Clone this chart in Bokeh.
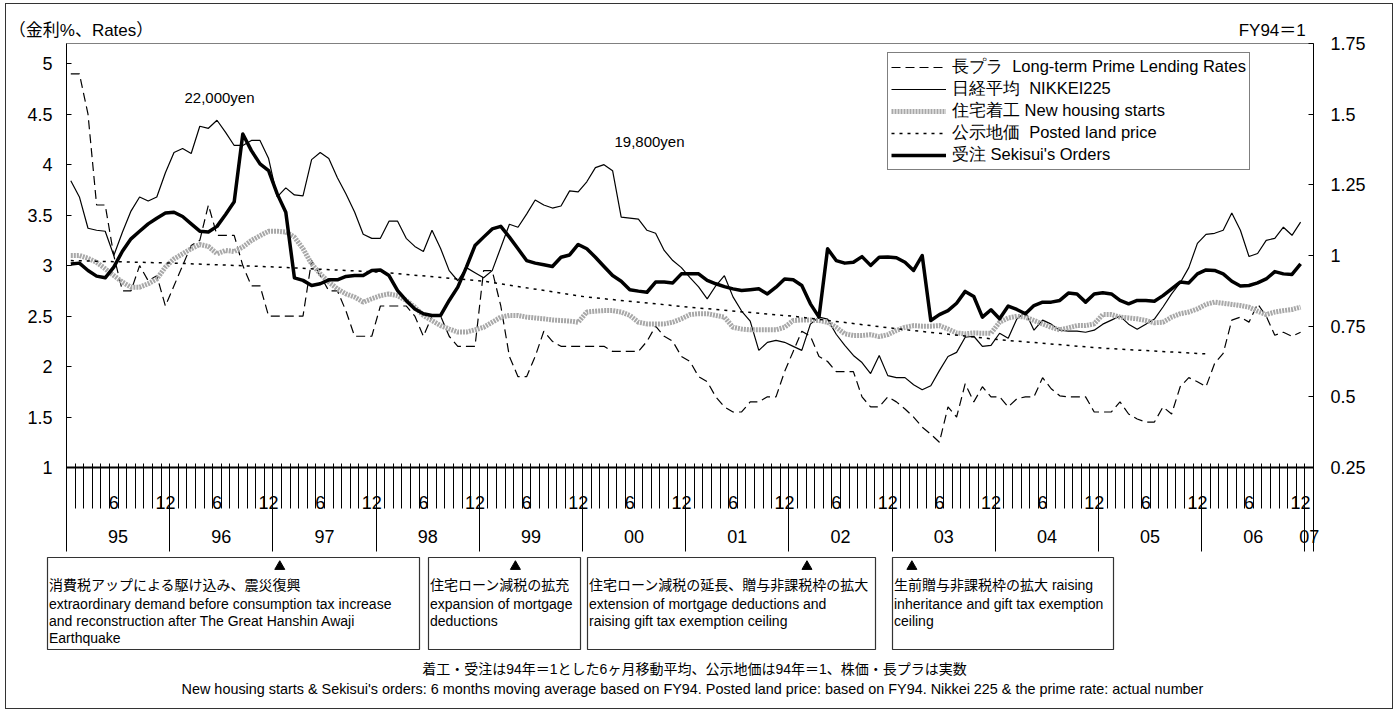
from bokeh.plotting import figure
from bokeh.models import (Range1d, LinearAxis, FixedTicker, CustomJSTickFormatter,
                          Legend, LegendItem, Label, ColumnDataSource)
from bokeh.layouts import column
from bokeh.embed import file_html
from bokeh.resources import INLINE
from bokeh.core.properties import value

# ------------------------------------------------------------------ data
year_labels = ["95", "96", "97", "98", "99", "00", "01", "02", "03", "04", "05", "06", "07"]
month_label_6 = "6"
month_label_12 = "12"
n_categories = 145          # Jan-95 ... Jan-07 monthly categories

# 長プラ Long-term prime lending rate (%), monthly Jan-95 .. Dec-06 (left axis)
prime_rate = [
    4.90, 4.90, 4.50, 3.60, 3.60, 3.10, 2.75, 2.75, 3.00, 2.85, 2.90, 2.60,
    2.80, 3.00, 3.20, 3.25, 3.60, 3.30, 3.30, 3.30, 3.00, 2.80, 2.80, 2.50,
    2.50, 2.50, 2.50, 2.50, 3.05, 2.90, 2.75, 2.75, 2.55, 2.30, 2.30, 2.30,
    2.60, 2.60, 2.60, 2.60, 2.50, 2.30, 2.50, 2.50, 2.30, 2.20, 2.20, 2.20,
    2.95, 2.95, 2.60, 2.10, 1.90, 1.90, 2.10, 2.35, 2.25, 2.20, 2.20, 2.20,
    2.20, 2.20, 2.20, 2.15, 2.15, 2.15, 2.15, 2.25, 2.40, 2.30, 2.25, 2.10,
    2.05, 1.90, 1.85, 1.70, 1.60, 1.55, 1.55, 1.65, 1.65, 1.70, 1.70, 1.95,
    2.15, 2.35, 2.30, 2.10, 2.05, 1.95, 1.95, 1.95, 1.70, 1.60, 1.60, 1.70,
    1.65, 1.58, 1.50, 1.40, 1.33, 1.25, 1.60, 1.50, 1.83, 1.65, 1.80, 1.70,
    1.70, 1.60, 1.68, 1.70, 1.70, 1.89, 1.78, 1.71, 1.70, 1.70, 1.70, 1.55,
    1.55, 1.55, 1.65, 1.53, 1.48, 1.45, 1.45, 1.60, 1.53, 1.80, 1.89, 1.85,
    1.80, 2.03, 2.13, 2.46, 2.49, 2.44, 2.62, 2.50, 2.31, 2.34, 2.30, 2.34,
]

# 日経平均 NIKKEI225, read on the left axis scale
nikkei = [
    3.84, 3.68, 3.37, 3.35, 3.34, 3.10, 3.33, 3.54, 3.68, 3.64, 3.68, 3.92,
    4.12, 4.16, 4.11, 4.38, 4.36, 4.44, 4.32, 4.19, 4.19, 4.24, 4.24, 4.06,
    3.68, 3.77, 3.70, 3.69, 4.05, 4.12, 4.06, 3.87, 3.71, 3.53, 3.31, 3.27,
    3.27, 3.44, 3.44, 3.27, 3.19, 3.14, 3.35, 3.17, 2.95, 2.85, 2.98, 2.93,
    2.88, 2.95, 3.18, 3.41, 3.38, 3.51, 3.65, 3.60, 3.57, 3.59, 3.74, 3.73,
    3.83, 3.97, 4.00, 3.94, 3.48, 3.47, 3.46, 3.35, 3.32, 3.15, 3.05, 2.98,
    2.88, 2.79, 2.67, 2.80, 2.90, 2.69, 2.55, 2.45, 2.16, 2.24, 2.26, 2.24,
    2.20, 2.16, 2.42, 2.49, 2.47, 2.32, 2.21, 2.11, 2.04, 1.93, 2.11, 1.91,
    1.89, 1.89, 1.82, 1.77, 1.81, 1.96, 2.10, 2.14, 2.29, 2.30, 2.20, 2.21,
    2.33, 2.28, 2.47, 2.54, 2.36, 2.46, 2.42, 2.36, 2.35, 2.35, 2.34, 2.36,
    2.42, 2.46, 2.50, 2.42, 2.37, 2.42, 2.47, 2.59, 2.72, 2.83, 2.98, 3.22,
    3.31, 3.32, 3.35, 3.52, 3.35, 3.09, 3.12, 3.25, 3.27, 3.38, 3.30, 3.43,
]

# 住宅着工 New housing starts (FY94 = 1, 6-month moving average), right axis
housing_starts = [
    1.000, 1.000, 0.990, 0.976, 0.953, 0.929, 0.906, 0.888, 0.888, 0.900, 0.917, 0.959,
    0.988, 1.006, 1.024, 1.039, 1.032, 1.006, 1.018, 1.014, 1.030, 1.053, 1.070, 1.086,
    1.086, 1.083, 1.065, 1.024, 0.970, 0.935, 0.906, 0.882, 0.864, 0.853, 0.835, 0.847,
    0.858, 0.864, 0.858, 0.841, 0.817, 0.788, 0.770, 0.752, 0.740, 0.729, 0.729, 0.737,
    0.746, 0.764, 0.782, 0.788, 0.788, 0.782, 0.779, 0.776, 0.772, 0.770, 0.768, 0.764,
    0.800, 0.803, 0.805, 0.805, 0.800, 0.788, 0.764, 0.758, 0.758, 0.758, 0.764, 0.776,
    0.791, 0.794, 0.794, 0.788, 0.782, 0.746, 0.740, 0.737, 0.737, 0.737, 0.737, 0.746,
    0.770, 0.772, 0.772, 0.770, 0.764, 0.746, 0.723, 0.717, 0.717, 0.720, 0.713, 0.720,
    0.735, 0.746, 0.752, 0.750, 0.750, 0.752, 0.740, 0.726, 0.723, 0.726, 0.725, 0.725,
    0.764, 0.779, 0.785, 0.782, 0.770, 0.758, 0.746, 0.737, 0.744, 0.752, 0.752, 0.758,
    0.791, 0.791, 0.782, 0.779, 0.776, 0.770, 0.762, 0.764, 0.782, 0.794, 0.800, 0.811,
    0.827, 0.835, 0.831, 0.827, 0.823, 0.817, 0.803, 0.791, 0.800, 0.805, 0.809, 0.817,
]

# 受注 Sekisui's orders (FY94 = 1, 6-month moving average), right axis
orders = [
    0.970, 0.973, 0.947, 0.927, 0.921, 0.959, 1.015, 1.059, 1.086, 1.112, 1.132, 1.150,
    1.153, 1.138, 1.112, 1.086, 1.083, 1.103, 1.145, 1.190, 1.430, 1.371, 1.324, 1.300,
    1.218, 1.153, 0.921, 0.912, 0.894, 0.900, 0.914, 0.914, 0.926, 0.929, 0.929, 0.947,
    0.949, 0.929, 0.876, 0.841, 0.811, 0.794, 0.788, 0.788, 0.841, 0.888, 0.959, 1.035,
    1.065, 1.094, 1.103, 1.065, 1.024, 0.982, 0.973, 0.967, 0.961, 0.994, 1.002, 1.039,
    1.024, 0.994, 0.961, 0.929, 0.909, 0.879, 0.874, 0.870, 0.906, 0.906, 0.903, 0.935,
    0.935, 0.935, 0.912, 0.900, 0.890, 0.882, 0.876, 0.879, 0.882, 0.864, 0.888, 0.917,
    0.914, 0.894, 0.829, 0.782, 1.024, 0.982, 0.973, 0.976, 0.996, 0.965, 0.994, 0.995,
    0.992, 0.976, 0.947, 1.000, 0.770, 0.791, 0.805, 0.831, 0.873, 0.855, 0.782, 0.808,
    0.776, 0.821, 0.809, 0.794, 0.823, 0.835, 0.835, 0.841, 0.867, 0.864, 0.835, 0.864,
    0.868, 0.864, 0.841, 0.829, 0.841, 0.841, 0.838, 0.858, 0.882, 0.906, 0.903, 0.935,
    0.949, 0.947, 0.935, 0.909, 0.892, 0.894, 0.903, 0.917, 0.943, 0.935, 0.933, 0.970,
]

# 公示地価 Posted land price (FY94 = 1), yearly points (January of each year), right axis
land_month = [0, 12, 24, 36, 48, 60, 72, 84, 96, 108, 120, 132]
land_price = [0.982, 0.973, 0.959, 0.941, 0.909, 0.853, 0.817, 0.785, 0.741, 0.702, 0.672, 0.652]

legend_labels = [
    "長プラ  Long-term Prime Lending Rates",
    "日経平均  NIKKEI225",
    "住宅着工 New housing starts",
    "公示地価  Posted land price",
    "受注 Sekisui's Orders",
]

left_title = "（金利%、Rates）"
right_title = "FY94＝1"
title_months = [1.69, 140.2]          # centre of each caption on the month axis
nikkei_peak_texts = ["22,000yen", "19,800yen"]
nikkei_peak_months = [17, 62]

# positions of the ▲ markers on the month axis
event_months = [24.8, 52.2, 86.1, 98.3]
event_texts = [
    ["消費税アップによる駆け込み、震災復興",
     "extraordinary demand before consumption tax increase",
     "and reconstruction after The Great Hanshin Awaji",
     "Earthquake"],
    ["住宅ローン減税の拡充",
     "expansion of mortgage",
     "deductions"],
    ["住宅ローン減税の延長、贈与非課税枠の拡大",
     "extension of mortgage deductions and",
     "raising gift tax exemption ceiling"],
    ["生前贈与非課税枠の拡大 raising",
     "inheritance and gift tax exemption",
     "ceiling"],
]
note_jp = "着工・受注は94年＝1とした6ヶ月移動平均、公示地価は94年＝1、株価・長プラは実数"
note_en = ("New housing starts & Sekisui's orders: 6 months moving average based on FY94. "
           "Posted land price: based on FY94.  Nikkei 225 & the prime rate: actual number")

# ------------------------------------------------------------------ layout constants
FONT = "Liberation Sans, Noto Sans CJK JP"
LEGEND_FONT = "Liberation Sans"
OX, OY = 6, 4                 # page position of the content's top-left corner
W = 1386
FR_L, FR_R, FR_T, FR_B = 66, 1313, 43, 467   # plot frame, page pixels
Y2 = 555                      # page y of lower panel top
H1 = Y2 - OY
H2 = 708 - Y2
PX = (FR_R - FR_L) / n_categories   # pixels per month
LEG_LEFT, LEG_BOTTOM = 887, 170     # legend box corner, page pixels


def mx(px):                   # page x -> month units
    return (px - FR_L) / PX


def no_align(fig):
    try:
        fig.frame_align = False
    except Exception:
        pass


x = [i + 0.5 for i in range(len(prime_rate))]
src = ColumnDataSource(dict(x=x, prime=prime_rate, nikkei=nikkei,
                            housing=housing_starts, orders=orders))
land_src = ColumnDataSource(dict(x=[m + 0.5 for m in land_month], y=land_price))

# ---------------- main plot
p = figure(width=W, height=H1, x_range=Range1d(0, n_categories), y_range=Range1d(1, 5.2),
           output_backend="svg", toolbar_location=None,
           x_axis_location=None, y_axis_location=None,
           min_border_left=FR_L - OX, min_border_right=OX + W - FR_R,
           min_border_top=FR_T - OY, min_border_bottom=Y2 - FR_B)
no_align(p)
p.grid.visible = False
p.outline_line_color = "#808080"
p.background_fill_color = "white"
p.border_fill_color = "white"
p.extra_y_ranges = {"idx": Range1d(0.25, 1.75)}

fmt_num = CustomJSTickFormatter(code="return String(Math.round(tick*100)/100);")

yl = LinearAxis(ticker=FixedTicker(ticks=[1 + 0.5 * k for k in range(9)]),
                formatter=fmt_num, major_tick_in=5, major_tick_out=0,
                minor_tick_in=0, minor_tick_out=0, major_label_standoff=14,
                major_label_text_font=FONT, major_label_text_font_size="18px",
                major_label_text_color="black", axis_line_color="black")
p.add_layout(yl, "left")

yr = LinearAxis(y_range_name="idx",
                ticker=FixedTicker(ticks=[0.25 * k for k in range(1, 8)]),
                formatter=fmt_num, major_tick_in=5, major_tick_out=0,
                minor_tick_in=0, minor_tick_out=0, major_label_standoff=17,
                major_label_text_font=FONT, major_label_text_font_size="18px",
                major_label_text_color="black", axis_line_color="black")
p.add_layout(yr, "right")

# captions above the plot area ("（金利%、Rates）" for the left scale, "FY94＝1" for the right)
xt = LinearAxis(ticker=FixedTicker(ticks=title_months),
                formatter=CustomJSTickFormatter(args=dict(a=left_title, b=right_title),
                                                code="return tick < 70 ? a : b;"),
                major_tick_in=0, major_tick_out=0, minor_tick_in=0, minor_tick_out=0,
                axis_line_color=None, major_label_standoff=4,
                major_label_text_font=FONT, major_label_text_font_size="17px",
                major_label_text_color="black")
p.add_layout(xt, "above")

month_centers = [i + 0.5 for i in range(n_categories) if i % 12 in (5, 11)]
xa = LinearAxis(ticker=FixedTicker(ticks=month_centers, minor_ticks=list(range(n_categories + 1))),
                formatter=CustomJSTickFormatter(
                    args=dict(l6=month_label_6, l12=month_label_12),
                    code="return (Math.floor(tick) % 12 == 5) ? l6 : l12;"),
                major_tick_in=0, major_tick_out=0, minor_tick_in=4, minor_tick_out=41,
                major_label_standoff=-13, axis_line_width=2, axis_line_color="black",
                minor_tick_line_color="black",
                major_label_text_font=FONT, major_label_text_font_size="18px",
                major_label_text_color="black")
p.add_layout(xa, "below")

year_centers = [12 * k + 6 for k in range(12)] + [144.5]
year_bounds = [12 * k for k in range(13)] + [n_categories]
xb = LinearAxis(ticker=FixedTicker(ticks=year_centers, minor_ticks=year_bounds),
                formatter=CustomJSTickFormatter(
                    args=dict(yl=year_labels),
                    code="return tick > 144 ? yl[12] : yl[Math.floor(tick/12)];"),
                major_tick_in=0, major_tick_out=0, minor_tick_in=41, minor_tick_out=40,
                minor_tick_line_color="black", axis_line_color=None,
                major_label_standoff=-22,
                major_label_text_font=FONT, major_label_text_font_size="18px",
                major_label_text_color="black")
p.add_layout(xb, "below")

r_prime = p.line("x", "prime", source=src, line_color="black", line_width=1.2, line_dash="9 5")
r_nikkei = p.line("x", "nikkei", source=src, line_color="black", line_width=1.2)
r_housing = p.line("x", "housing", source=src, y_range_name="idx",
                   line_color="#a8a8a8", line_width=5, line_dash="2 1")
r_land = p.line("x", "y", source=land_src, y_range_name="idx",
                line_color="black", line_width=1.5, line_dash="3 5")
r_orders = p.line("x", "orders", source=src, y_range_name="idx",
                  line_color="black", line_width=3.5, line_join="round")

legend = Legend(items=[LegendItem(label=lab, renderers=[r]) for lab, r in
                       zip(legend_labels, [r_prime, r_nikkei, r_housing, r_land, r_orders])],
                location=(LEG_LEFT - FR_L, FR_B - LEG_BOTTOM), label_text_font=LEGEND_FONT,
                label_text_font_size="16.5px", label_text_color="black",
                glyph_width=55, glyph_height=18, label_height=18, label_standoff=6,
                padding=3, spacing=0, margin=0, border_line_color="black",
                border_line_width=1, background_fill_alpha=1.0)
p.add_layout(legend)

# Nikkei peak annotations
for txt, m, dx in zip(nikkei_peak_texts, nikkei_peak_months, [2.5, 45.5]):
    p.add_layout(Label(x=m + 0.5, y=nikkei[m] + 0.23, x_offset=dx, text=txt, text_font=FONT,
                       text_font_size="15px", text_baseline="middle", text_align="center",
                       text_color="black"))

# ---------------- lower panel (events and notes)
p2 = figure(width=W, height=H2, x_range=Range1d(mx(OX), mx(OX + W)), y_range=Range1d(H2, 0),
            output_backend="svg", toolbar_location=None,
            x_axis_location=None, y_axis_location=None, min_border=0)
no_align(p2)
p2.grid.visible = False
p2.outline_line_color = None

box_l = [47, 428, 587, 892]
box_r = [419, 580, 875, 1113]
p2.quad(left=[mx(v) for v in box_l], right=[mx(v) for v in box_r],
        top=[557 - Y2] * 4, bottom=[649 - Y2] * 4,
        fill_color=None, line_color="#333333", line_width=1.2)
p2.scatter(x=event_months, y=[566 - Y2] * 4, marker="triangle",
           size=10, fill_color="black", line_color="black")

tx, ty, tt = [], [], []
line_y = [584.5, 603, 620.3, 637.3]
for bl, lines in zip(box_l, event_texts):
    for k, s in enumerate(lines):
        tx.append(mx(bl + 1.5))
        ty.append(line_y[k] - Y2)
        tt.append(s)
p2.text(x=tx, y=ty, text=tt, text_font=value(FONT), text_font_size="14px",
        text_baseline="middle", text_align="left", text_color="black")
p2.text(x=[mx(694)], y=[668.3 - Y2], text=[note_jp],
        text_font=value(FONT), text_font_size="14px", text_baseline="middle",
        text_align="center", text_color="black")
p2.text(x=[mx(694)], y=[688.3 - Y2], text=[note_en],
        text_font=value(FONT), text_font_size="14.4px", text_baseline="middle",
        text_align="center", text_color="black")

layout = column(p, p2, styles={"border": "1px solid #333333",
                               "margin-left": "5px", "margin-top": "3px"})
open("out.html", "w").write(file_html(layout, INLINE))
